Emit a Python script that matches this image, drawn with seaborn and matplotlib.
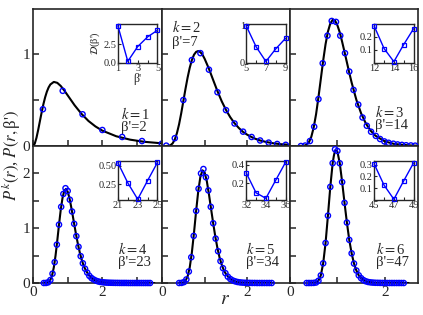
import matplotlib
matplotlib.use("Agg")
import matplotlib.pyplot as plt
import seaborn as sns
import numpy as np
from matplotlib.ticker import MultipleLocator, FixedLocator

sns.set_style("ticks")
plt.rcParams['font.family'] = ['Liberation Serif', 'DejaVu Serif']
plt.rcParams['mathtext.fontset'] = 'stix'

# ---------------- data ----------------
ks = [1, 2, 3, 4, 5, 6]
betas = [2, 7, 14, 23, 34, 47]

# fitted curves
r1c = [0.0, 0.05, 0.1, 0.15, 0.2, 0.25, 0.3, 0.35, 0.4, 0.45, 0.5, 0.6, 0.7, 0.8, 0.9, 1.0, 1.2, 1.4, 1.6, 1.8, 2.0, 2.4, 2.8, 3.2, 3.72]
p1c = [0.0, 0.025, 0.089, 0.176, 0.272, 0.367, 0.455, 0.530, 0.591, 0.637, 0.669, 0.697, 0.687, 0.653, 0.605, 0.551, 0.443, 0.349, 0.272, 0.213, 0.167, 0.106, 0.069, 0.046, 0.029]
r2c = [0.1, 0.15, 0.2, 0.25, 0.3, 0.35, 0.4, 0.45, 0.5, 0.55, 0.6, 0.65, 0.7, 0.75, 0.8, 0.85, 0.9, 0.95, 1.0, 1.1, 1.2, 1.3, 1.4, 1.5, 1.6, 1.7, 1.8, 1.9, 2.0, 2.15, 2.3, 2.45, 2.6, 2.8, 3.0]
p2c = [0.0, 0.002, 0.009, 0.029, 0.071, 0.140, 0.236, 0.355, 0.487, 0.620, 0.744, 0.851, 0.935, 0.993, 1.024, 1.033, 1.020, 0.992, 0.948, 0.840, 0.717, 0.596, 0.486, 0.392, 0.313, 0.248, 0.196, 0.153, 0.122, 0.085, 0.060, 0.043, 0.030, 0.019, 0.013]
r3c = [0.2, 0.3, 0.35, 0.4, 0.45, 0.5, 0.55, 0.6, 0.65, 0.7, 0.75, 0.8, 0.85, 0.9, 0.95, 1.0, 1.05, 1.1, 1.15, 1.2, 1.25, 1.3, 1.4, 1.5, 1.6, 1.7, 1.8, 2.0, 2.2, 2.5, 2.7]
p3c = [0.0, 0.003, 0.014, 0.042, 0.101, 0.202, 0.346, 0.529, 0.729, 0.930, 1.107, 1.244, 1.332, 1.372, 1.364, 1.313, 1.235, 1.133, 1.023, 0.910, 0.797, 0.690, 0.502, 0.355, 0.245, 0.167, 0.113, 0.050, 0.022, 0.007, 0.003]
r4c = [0.3, 0.4, 0.45, 0.5, 0.55, 0.6, 0.65, 0.7, 0.75, 0.8, 0.85, 0.9, 0.95, 1.0, 1.05, 1.1, 1.15, 1.2, 1.25, 1.3, 1.35, 1.4, 1.45, 1.5, 1.6, 1.7, 1.8, 2.0, 2.4, 3.0, 3.5]
p4c = [0.0, 0.004, 0.017, 0.054, 0.137, 0.284, 0.50, 0.772, 1.065, 1.336, 1.548, 1.679, 1.717, 1.667, 1.553, 1.393, 1.215, 1.033, 0.855, 0.695, 0.553, 0.435, 0.336, 0.261, 0.150, 0.084, 0.046, 0.014, 0.002, 0.0, 0.0]
r5c = [0.4, 0.5, 0.55, 0.6, 0.65, 0.7, 0.75, 0.8, 0.85, 0.9, 0.95, 1.0, 1.05, 1.1, 1.15, 1.2, 1.25, 1.3, 1.35, 1.4, 1.45, 1.5, 1.6, 1.7, 1.8, 2.0, 2.6]
p5c = [0.0, 0.010, 0.040, 0.120, 0.285, 0.556, 0.917, 1.316, 1.679, 1.941, 2.056, 2.015, 1.860, 1.621, 1.353, 1.090, 0.843, 0.634, 0.462, 0.332, 0.231, 0.162, 0.074, 0.033, 0.014, 0.003, 0.0]
r6c = [0.4, 0.55, 0.6, 0.65, 0.7, 0.75, 0.8, 0.85, 0.9, 0.925, 0.95, 0.975, 1.0, 1.05, 1.1, 1.15, 1.2, 1.25, 1.3, 1.35, 1.4, 1.45, 1.5, 1.6, 1.8, 2.5]
p6c = [0.0, 0.009, 0.041, 0.139, 0.359, 0.730, 1.229, 1.754, 2.187, 2.32, 2.415, 2.42, 2.396, 2.185, 1.842, 1.463, 1.103, 0.787, 0.541, 0.355, 0.228, 0.140, 0.088, 0.031, 0.003, 0.0]

# histogram points
r1p = [0.286, 0.857, 1.429, 2.0, 2.571, 3.143, 3.714]
p1p = [0.40, 0.60, 0.345, 0.174, 0.098, 0.054, 0.025]
r2p = [0.1, 0.3, 0.5, 0.7, 0.9, 1.1, 1.3, 1.5, 1.7, 1.9, 2.1, 2.3, 2.5, 2.7, 2.9]
p2p = [0.004, 0.085, 0.50, 0.935, 1.01, 0.83, 0.585, 0.39, 0.245, 0.156, 0.098, 0.06, 0.037, 0.022, 0.013]
r3p = [0.23, 0.32, 0.42, 0.51, 0.60, 0.69, 0.79, 0.88, 0.97, 1.06, 1.16, 1.25, 1.34, 1.44, 1.53, 1.62, 1.71, 1.81, 1.90, 1.99, 2.08, 2.18, 2.27, 2.36, 2.45, 2.55, 2.64]
p3p = [0.0, 0.005, 0.054, 0.21, 0.51, 0.90, 1.20, 1.36, 1.35, 1.20, 1.01, 0.81, 0.61, 0.45, 0.31, 0.22, 0.155, 0.11, 0.076, 0.05, 0.035, 0.025, 0.017, 0.012, 0.008, 0.006, 0.004]
r4p = [0.3125, 0.375, 0.4375, 0.5, 0.5625, 0.625, 0.6875, 0.75, 0.8125, 0.875, 0.9375, 1.0, 1.0625, 1.125, 1.1875, 1.25, 1.3125, 1.375, 1.4375, 1.5, 1.5625, 1.625, 1.6875, 1.75, 1.8125, 1.875, 1.9375, 2.0,
       2.0625, 2.125, 2.1875, 2.25, 2.3125, 2.375, 2.4375, 2.5, 2.5625, 2.625, 2.6875, 2.75, 2.8125, 2.875, 2.9375, 3.0, 3.0625, 3.125, 3.1875, 3.25, 3.3125, 3.375]
p4p = [0.0, 0.001, 0.012, 0.054, 0.17, 0.38, 0.70, 1.065, 1.39, 1.625, 1.73, 1.68, 1.52, 1.305, 1.08, 0.855, 0.66, 0.49, 0.36, 0.261, 0.19, 0.13, 0.09, 0.063, 0.043, 0.029, 0.02, 0.014,
       0.010, 0.007, 0.005, 0.004, 0.003, 0.002, 0.002, 0.001, 0.001, 0.001, 0.001, 0.0, 0.0, 0.0, 0.0, 0.0, 0.0, 0.0, 0.0, 0.0, 0.0, 0.0]
r5p = [0.40, 0.457, 0.514, 0.571, 0.629, 0.686, 0.743, 0.80, 0.857, 0.914, 0.971, 1.029, 1.086, 1.143, 1.20, 1.257, 1.314, 1.371, 1.429, 1.486, 1.543, 1.60, 1.657, 1.714, 1.771, 1.829, 1.886, 1.943, 2.0,
       2.057, 2.114, 2.171, 2.229, 2.286, 2.343, 2.40, 2.457, 2.514, 2.571]
p5p = [0.0, 0.002, 0.016, 0.065, 0.21, 0.47, 0.86, 1.316, 1.72, 2.0, 2.08, 1.93, 1.69, 1.39, 1.09, 0.81, 0.58, 0.40, 0.27, 0.18, 0.115, 0.074, 0.047, 0.03, 0.018, 0.011, 0.007, 0.004, 0.003,
       0.002, 0.001, 0.001, 0.0, 0.0, 0.0, 0.0, 0.0, 0.0, 0.0]
r6p = [0.35, 0.40, 0.45, 0.50, 0.55, 0.60, 0.65, 0.70, 0.75, 0.80, 0.85, 0.90, 0.95, 1.0, 1.05, 1.1, 1.15, 1.2, 1.25, 1.3, 1.35, 1.4, 1.45, 1.5, 1.55, 1.6, 1.65, 1.7, 1.75, 1.8,
       1.85, 1.9, 1.95, 2.0, 2.05, 2.1, 2.15, 2.2, 2.25, 2.3, 2.35, 2.4]
p6p = [0.0, 0.0, 0.0, 0.002, 0.009, 0.041, 0.139, 0.359, 0.73, 1.229, 1.754, 2.187, 2.44, 2.41, 2.185, 1.842, 1.463, 1.103, 0.787, 0.541, 0.355, 0.228, 0.14, 0.088, 0.053, 0.031, 0.018, 0.011, 0.007, 0.004,
       0.003, 0.002, 0.001, 0.001, 0.0, 0.0, 0.0, 0.0, 0.0, 0.0, 0.0, 0.0]

# insets: D(beta')
b1 = [1, 2, 3, 4, 5];      d1 = [5.0, 0.22, 2.2, 3.5, 4.4]
b2 = [5, 6, 7, 8, 9];      d2 = [0.98, 0.43, 0.04, 0.37, 0.65]
b3 = [12, 13, 14, 15, 16]; d3 = [0.28, 0.11, 0.01, 0.14, 0.26]
b4 = [21, 22, 23, 24, 25]; d4 = [0.54, 0.27, 0.05, 0.30, 0.545]
b5 = [32, 33, 34, 35, 36]; d5 = [0.31, 0.093, 0.033, 0.23, 0.425]
b6 = [45, 46, 47, 48, 49]; d6 = [0.305, 0.126, 0.006, 0.162, 0.314]

curves = [(r1c, p1c), (r2c, p2c), (r3c, p3c), (r4c, p4c), (r5c, p5c), (r6c, p6c)]
points = [(r1p, p1p), (r2p, p2p), (r3p, p3p), (r4p, p4p), (r5p, p5p), (r6p, p6p)]
insets = [(b1, d1), (b2, d2), (b3, d3), (b4, d4), (b5, d5), (b6, d6)]
inset_ylim = [(0, 5.3), (0, 1.04), (0, 0.30), (0.04, 0.57), (0.015, 0.445), (0, 0.335)]
inset_yticks = [[0, 2.5], [0, 1], [0.1, 0.2], [0.25, 0.5], [0.2, 0.4], [0.1, 0.2, 0.3]]
inset_ylabels = [["0.0", "2.5"], ["0", "1"], ["0.1", "0.2"], ["0.25", "0.50"], ["0.2", "0.4"], ["0.1", "0.2", "0.3"]]
xlims = [3.72, 3.0, 2.7]

# ---------------- figure ----------------
W, H = 423, 315
fig = plt.figure(figsize=(W / 100, H / 100), dpi=100)
colx = [33, 162, 290, 418]
rowy = [9, 146, 283]
blue = "#0000ff"

text_pos = [(0.68, 0.232, 0.134), (0.076, 0.865, 0.755), (0.664, 0.245, 0.147),
            (0.66, 0.245, 0.147), (0.66, 0.245, 0.147), (0.668, 0.245, 0.147)]

for i in range(6):
    row, col = divmod(i, 3)
    x0, x1 = colx[col], colx[col + 1]
    y0, y1 = rowy[row], rowy[row + 1]
    ax = fig.add_axes([x0 / W, 1 - y1 / H, (x1 - x0) / W, (y1 - y0) / H])
    rc, pc = curves[i]
    rp, pp = points[i]
    sns.lineplot(x=rc, y=pc, ax=ax, color="k", lw=1.5, zorder=3, sort=False)
    sns.scatterplot(x=rp, y=pp, ax=ax, marker="o", s=14, facecolor="none",
                    edgecolor=blue, linewidth=1.0, zorder=4, clip_on=False)
    ax.set_xlim(0, xlims[col])
    if row == 0:
        ax.set_ylim(0, 1.49)
        ax.yaxis.set_major_locator(FixedLocator([0, 1]))
        ax.yaxis.set_minor_locator(FixedLocator([0.5]))
    else:
        ax.set_ylim(0, 2.5)
        ax.yaxis.set_major_locator(FixedLocator([0, 1, 2]))
        ax.yaxis.set_minor_locator(FixedLocator([0.5, 1.5]))
    ax.xaxis.set_major_locator(FixedLocator([0, 2]))
    ax.xaxis.set_minor_locator(FixedLocator([1, 3]))
    ax.tick_params(which="both", direction="in", length=4.5, width=1.1, labelsize=11, pad=2,
                   top=False, right=False)
    if row == 0:
        ax.tick_params(labelbottom=False)
    if col != 0:
        ax.tick_params(labelleft=False)
    for s in ax.spines.values():
        s.set_linewidth(1.2)
    ax.set_xlabel("")
    ax.set_ylabel("")

    tx, ty1, ty2 = text_pos[i]
    ax.text(tx, ty1, f"$k=${ks[i]}", transform=ax.transAxes, fontsize=10.5, va="center", ha="left")
    ax.text(tx, ty2, f"\u03b2'={betas[i]}", transform=ax.transAxes, fontsize=10.5, va="center", ha="left")

    # inset
    ia = ax.inset_axes([0.658, 0.606, 0.307, 0.288])
    b, d = insets[i]
    sns.lineplot(x=b, y=d, ax=ia, color=blue, lw=1.0, marker="s", markersize=3.0,
                 markerfacecolor="none", markeredgecolor=blue, markeredgewidth=0.9,
                 clip_on=False, zorder=3)
    ia.set_xlim(b[0], b[-1])
    ia.set_ylim(*inset_ylim[i])
    ia.xaxis.set_major_locator(FixedLocator([b[0], b[2], b[4]]))
    ia.xaxis.set_minor_locator(FixedLocator([b[1], b[3]]))
    ia.set_yticks(inset_yticks[i])
    ia.set_yticklabels(inset_ylabels[i])
    ia.tick_params(which="both", direction="in", length=2.2, width=0.8, labelsize=7.5, pad=1,
                   top=False, right=False)
    for s in ia.spines.values():
        s.set_linewidth(1.0)
    ia.set_xlabel("")
    ia.set_ylabel("")
    if i == 0:
        ia.set_ylabel("$\\mathcal{D}$(\u03b2')", fontsize=7.5, labelpad=1)
        ia.set_xlabel("\u03b2'", fontsize=8.5, labelpad=0)

fig.text(11 / W, 1 - 156 / H, "$P^k(r)$, $P(r,$\u03b2'$)$", rotation=90, fontsize=12,
         ha="center", va="center")
fig.text(225 / W, 1 - 300 / H, "$r$", fontsize=14, ha="center", va="center")

fig.savefig("out.png", dpi=100)
